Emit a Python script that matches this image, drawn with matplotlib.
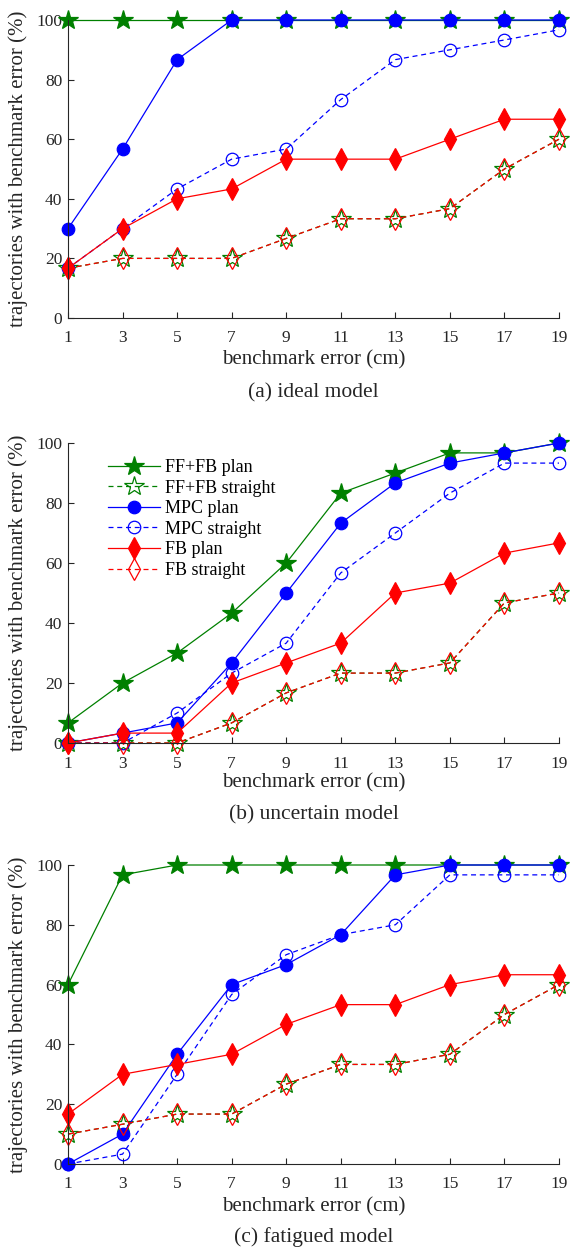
import matplotlib
matplotlib.use('Agg')
import matplotlib.pyplot as plt

# --- Data (percent of trajectories) ---
ERRORS = [1, 3, 5, 7, 9, 11, 13, 15, 17, 19]
LABELS = ['FF+FB plan', 'FF+FB straight', 'MPC plan', 'MPC straight', 'FB plan', 'FB straight']
CAPTIONS = ['(a) ideal model', '(b) uncertain model', '(c) fatigued model']

ideal_fffb_plan = [100, 100, 100, 100, 100, 100, 100, 100, 100, 100]
ideal_fffb_straight = [16.7, 20, 20, 20, 26.7, 33.3, 33.3, 36.7, 50, 60]
ideal_mpc_plan = [30, 56.7, 86.7, 100, 100, 100, 100, 100, 100, 100]
ideal_mpc_straight = [16.7, 30, 43.3, 53.3, 56.7, 73.3, 86.7, 90, 93.3, 96.7]
ideal_fb_plan = [16.7, 30, 40, 43.3, 53.3, 53.3, 53.3, 60, 66.7, 66.7]
ideal_fb_straight = [16.7, 20, 20, 20, 26.7, 33.3, 33.3, 36.7, 50, 60]

uncert_fffb_plan = [6.7, 20, 30, 43.3, 60, 83.3, 90, 96.7, 96.7, 100]
uncert_fffb_straight = [0, 0, 0, 6.7, 16.7, 23.3, 23.3, 26.7, 46.7, 50]
uncert_mpc_plan = [0, 3.3, 6.7, 26.7, 50, 73.3, 86.7, 93.3, 96.7, 100]
uncert_mpc_straight = [0, 0, 10, 23.3, 33.3, 56.7, 70, 83.3, 93.3, 93.3]
uncert_fb_plan = [0, 3.3, 3.3, 20, 26.7, 33.3, 50, 53.3, 63.3, 66.7]
uncert_fb_straight = [0, 0, 0, 6.7, 16.7, 23.3, 23.3, 26.7, 46.7, 50]

fatig_fffb_plan = [60, 96.7, 100, 100, 100, 100, 100, 100, 100, 100]
fatig_fffb_straight = [10, 13.3, 16.7, 16.7, 26.7, 33.3, 33.3, 36.7, 50, 60]
fatig_mpc_plan = [0, 10, 36.7, 60, 66.7, 76.7, 96.7, 100, 100, 100]
fatig_mpc_straight = [0, 3.3, 30, 56.7, 70, 76.7, 80, 96.7, 96.7, 96.7]
fatig_fb_plan = [16.7, 30, 33.3, 36.7, 46.7, 53.3, 53.3, 60, 63.3, 63.3]
fatig_fb_straight = [10, 13.3, 16.7, 16.7, 26.7, 33.3, 33.3, 36.7, 50, 60]

PANELS = [
    [ideal_fffb_plan, ideal_fffb_straight, ideal_mpc_plan, ideal_mpc_straight, ideal_fb_plan, ideal_fb_straight],
    [uncert_fffb_plan, uncert_fffb_straight, uncert_mpc_plan, uncert_mpc_straight, uncert_fb_plan, uncert_fb_straight],
    [fatig_fffb_plan, fatig_fffb_straight, fatig_mpc_plan, fatig_mpc_straight, fatig_fb_plan, fatig_fb_straight],
]

# --- Style ---
GREEN = '#008000'
BLUE = '#0000ff'
RED = '#ff0000'
DASH = (0, (4, 3))
STYLES = [
    dict(color=GREEN, ls='-', marker='*', ms=15, mfc=GREEN, mec=GREEN),
    dict(color=GREEN, ls=DASH, marker='*', ms=15, mfc='none', mec=GREEN),
    dict(color=BLUE, ls='-', marker='o', ms=9, mfc=BLUE, mec=BLUE),
    dict(color=BLUE, ls=DASH, marker='o', ms=9, mfc='none', mec=BLUE),
    dict(color=RED, ls='-', marker='d', ms=11, mfc=RED, mec=RED),
    dict(color=RED, ls=DASH, marker='d', ms=11, mfc='none', mec=RED),
]
TXT = '#262626'

plt.rcParams['font.family'] = ['Liberation Serif', 'DejaVu Serif']
plt.rcParams['font.size'] = 12

W, H = 571, 1250
fig = plt.figure(figsize=(W / 100, H / 100), dpi=100)

# axes pixel boxes: (y of 100, y of 0), xlabel y, caption y
BOXES = [(20, 318, 360, 393), (443, 743, 783, 815), (865, 1164, 1207, 1237)]
X_LEFT, X_RIGHT = 68, 559

for i, (series, (ytop, ybot, ylab, ycap)) in enumerate(zip(PANELS, BOXES)):
    ax = fig.add_axes([X_LEFT / W, 1 - ybot / H, (X_RIGHT - X_LEFT) / W, (ybot - ytop) / H])
    for vals, lab, st in zip(series, LABELS, STYLES):
        ax.plot(ERRORS, vals, label=lab, lw=0.9, mew=0.9, clip_on=False, **st)
    ax.set_xlim(1, 19)
    ax.set_ylim(0, 100)
    ax.set_xticks(ERRORS)
    ax.set_yticks([0, 20, 40, 60, 80, 100])
    for s in ['top', 'right']:
        ax.spines[s].set_visible(False)
    for s in ['left', 'bottom']:
        ax.spines[s].set_color(TXT)
        ax.spines[s].set_linewidth(0.8)
    ax.tick_params(direction='in', length=4, width=0.8, color=TXT, labelcolor=TXT, labelsize=12.5)
    ax.tick_params(axis='x', pad=9)
    ax.tick_params(axis='y', pad=4)
    ax.set_xlabel('benchmark error (cm)', fontsize=15, color=TXT)
    ax.xaxis.set_label_coords(0.5, (ybot - ylab) / (ybot - ytop), transform=ax.transAxes)
    ax.xaxis.label.set_va('center')
    ax.set_ylabel('trajectories with benchmark error (%)', fontsize=15, color=TXT)
    ax.yaxis.set_label_coords((18 - X_LEFT) / (X_RIGHT - X_LEFT), 0.5, transform=ax.transAxes)
    ax.yaxis.label.set_va('center')
    fig.text((X_LEFT + X_RIGHT) / 2 / W, 1 - ycap / H, CAPTIONS[i], ha='center', va='center',
             fontsize=15.5, color=TXT)
    if i == 1:
        ax.legend(loc='upper left', bbox_to_anchor=(0.081, 0.947), frameon=False, handlelength=2.9,
                  handletextpad=0.25, labelspacing=0.2, fontsize=13, borderaxespad=0, borderpad=0)

fig.savefig('out.png', dpi=100)
